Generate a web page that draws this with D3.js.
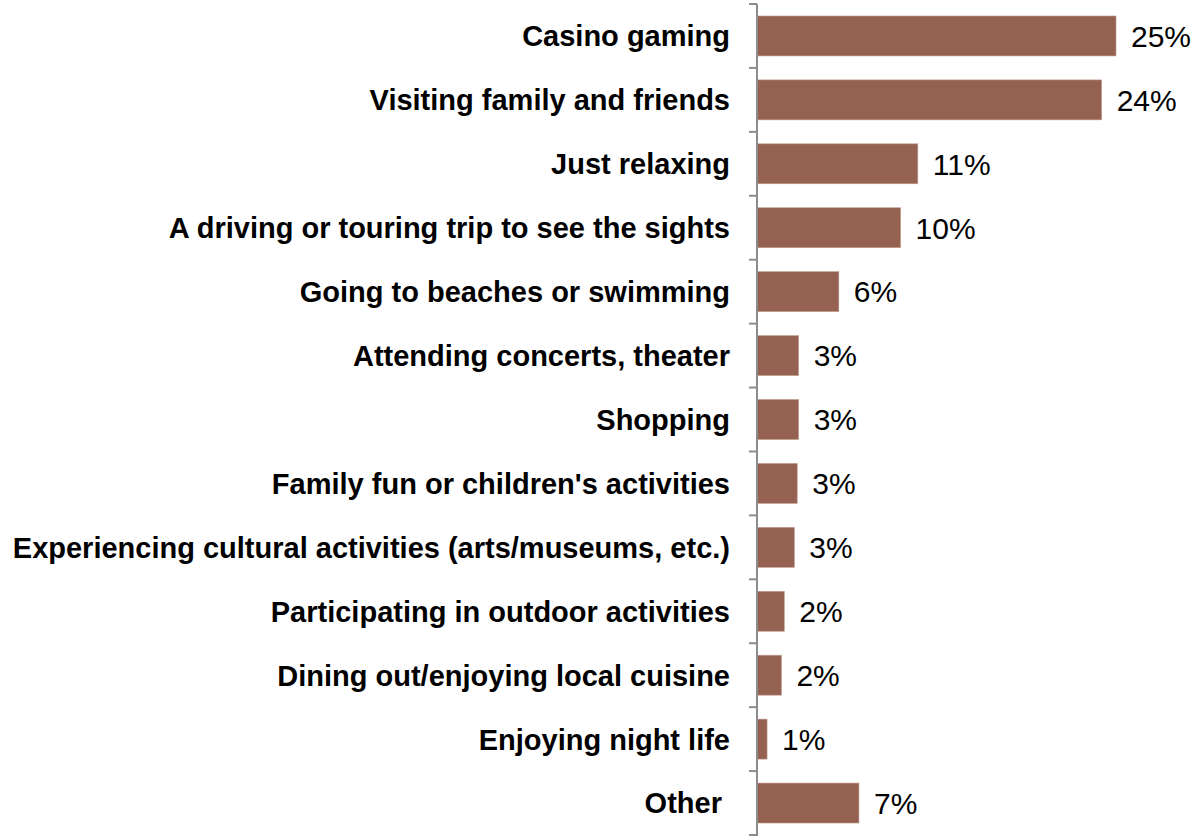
<!DOCTYPE html>
<html>
<head>
<meta charset="utf-8">
<script src="https://cdn.jsdelivr.net/npm/d3@7"></script>
<style>
  html, body { margin: 0; padding: 0; background: #fff; }
  svg { display: block; }
  text { font-family: "Liberation Sans", Arial, Helvetica, sans-serif; }
</style>
</head>
<body>
<svg id="chart" width="1201" height="836"></svg>
<script>
// Share of respondents by primary trip activity
const categories = [
  "Casino gaming",
  "Visiting family and friends",
  "Just relaxing",
  "A driving or touring trip to see the sights",
  "Going to beaches or swimming",
  "Attending concerts, theater",
  "Shopping",
  "Family fun or children's activities",
  "Experiencing cultural activities (arts/museums, etc.)",
  "Participating in outdoor activities",
  "Dining out/enjoying local cuisine",
  "Enjoying night life",
  "Other "
];
const shares = [0.250, 0.240, 0.112, 0.100, 0.057, 0.029, 0.029, 0.028, 0.026, 0.019, 0.017, 0.007, 0.071];

const data = categories.map((c, i) => ({ category: c, value: shares[i] }));

const svg = d3.select("#chart");
const axisX = 757;

const x = d3.scaleLinear().domain([0, 0.25]).range([axisX, 1116]);
const y = d3.scaleBand()
  .domain(categories)
  .range([4, 835])
  .paddingInner(0.375)
  .paddingOuter(0.1875);

const fmt = d3.format(".0%");

// bars
svg.append("g")
  .selectAll("rect")
  .data(data)
  .join("rect")
  .attr("x", x(0))
  .attr("y", d => y(d.category))
  .attr("width", d => x(d.value) - x(0))
  .attr("height", y.bandwidth())
  .attr("fill", "#956251")
  .attr("stroke", "#c09a8c")
  .attr("stroke-width", 0.6);

// category axis with tick marks between bands
const step = y.step();
const bounds = d3.range(categories.length + 1).map(i => 4 + i * step);
const axis = svg.append("g");
axis.append("line")
  .attr("x1", axisX).attr("x2", axisX)
  .attr("y1", 4).attr("y2", 836)
  .attr("stroke", "#8c8c8c").attr("stroke-width", 2);
axis.selectAll("line.tick")
  .data(bounds)
  .join("line")
  .attr("class", "tick")
  .attr("x1", axisX - 8).attr("x2", axisX)
  .attr("y1", d => d).attr("y2", d => d)
  .attr("stroke", "#8c8c8c").attr("stroke-width", 2);

// category labels
svg.append("g")
  .selectAll("text")
  .data(data)
  .join("text")
  .attr("x", 730)
  .attr("y", d => y(d.category) + y.bandwidth() / 2)
  .attr("dy", "0.36em")
  .attr("text-anchor", "end")
  .attr("font-size", 29)
  .attr("font-weight", "bold")
  .attr("fill", "#000")
  .style("white-space", "pre")
  .text(d => d.category);

// value labels
svg.append("g")
  .selectAll("text")
  .data(data)
  .join("text")
  .attr("x", d => x(d.value) + 15)
  .attr("y", d => y(d.category) + y.bandwidth() / 2)
  .attr("dy", "0.36em")
  .attr("font-size", 30)
  .attr("fill", "#000")
  .text(d => fmt(d.value));
</script>
</body>
</html>
